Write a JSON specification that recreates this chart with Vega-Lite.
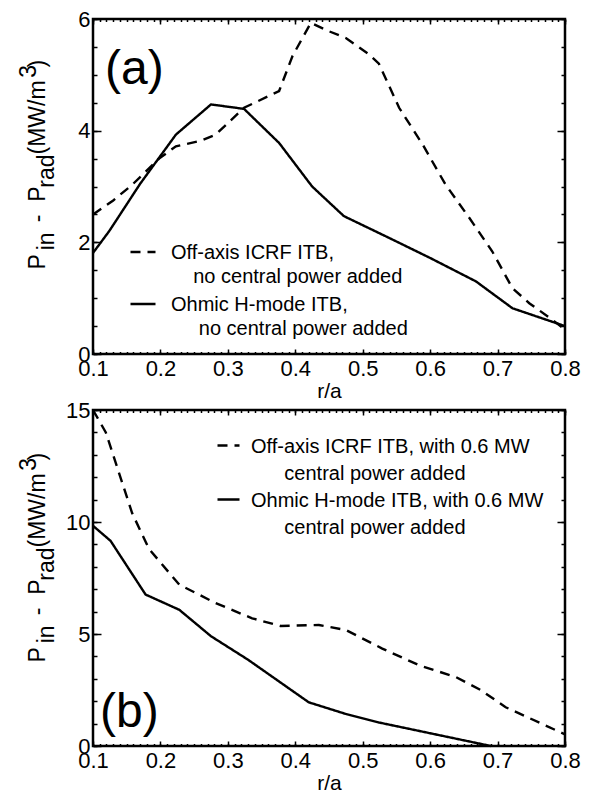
{
  "$schema": "https://vega.github.io/schema/vega-lite/v6.json",
  "padding": {"left": 15, "top": 6, "right": 10, "bottom": 5},
  "bounds": "flush",
  "spacing": 56,
  "config": {
    "font": "Liberation Sans",
    "view": {"stroke": "black", "strokeWidth": 2.5},
    "axis": {"grid": false, "domain": false, "labelFont": "Liberation Sans", "labelFontSize": 22, "labelColor": "black", "titleFont": "Liberation Sans", "titleColor": "black", "titleFontWeight": "normal", "tickColor": "black", "tickWidth": 1.5, "labelOverlap": false, "labelFlush": false},
    "legend": {"labelFont": "Liberation Sans", "labelFontSize": 20, "labelColor": "black", "labelLimit": 600, "padding": 0}
  },
  "resolve": {"scale": {"strokeDash": "independent"}, "legend": {"strokeDash": "independent"}},
  "datasets": {
    "a": [
      {"x": 0.10, "y": 2.50, "s": "a_icrf"}, {"x": 0.13, "y": 2.75, "s": "a_icrf"}, {"x": 0.158, "y": 3.03, "s": "a_icrf"}, {"x": 0.198, "y": 3.50, "s": "a_icrf"}, {"x": 0.223, "y": 3.72, "s": "a_icrf"}, {"x": 0.26, "y": 3.82, "s": "a_icrf"}, {"x": 0.282, "y": 3.93, "s": "a_icrf"}, {"x": 0.324, "y": 4.41, "s": "a_icrf"}, {"x": 0.376, "y": 4.71, "s": "a_icrf"}, {"x": 0.396, "y": 5.34, "s": "a_icrf"}, {"x": 0.423, "y": 5.93, "s": "a_icrf"}, {"x": 0.45, "y": 5.78, "s": "a_icrf"}, {"x": 0.475, "y": 5.66, "s": "a_icrf"}, {"x": 0.51, "y": 5.36, "s": "a_icrf"}, {"x": 0.524, "y": 5.20, "s": "a_icrf"}, {"x": 0.554, "y": 4.41, "s": "a_icrf"}, {"x": 0.589, "y": 3.75, "s": "a_icrf"}, {"x": 0.623, "y": 3.03, "s": "a_icrf"}, {"x": 0.658, "y": 2.44, "s": "a_icrf"}, {"x": 0.692, "y": 1.84, "s": "a_icrf"}, {"x": 0.722, "y": 1.18, "s": "a_icrf"}, {"x": 0.747, "y": 0.91, "s": "a_icrf"}, {"x": 0.777, "y": 0.65, "s": "a_icrf"}, {"x": 0.80, "y": 0.44, "s": "a_icrf"},
      {"x": 0.10, "y": 1.81, "s": "a_ohmic"}, {"x": 0.124, "y": 2.20, "s": "a_ohmic"}, {"x": 0.17, "y": 3.05, "s": "a_ohmic"}, {"x": 0.223, "y": 3.93, "s": "a_ohmic"}, {"x": 0.275, "y": 4.47, "s": "a_ohmic"}, {"x": 0.324, "y": 4.39, "s": "a_ohmic"}, {"x": 0.376, "y": 3.78, "s": "a_ohmic"}, {"x": 0.425, "y": 3.00, "s": "a_ohmic"}, {"x": 0.472, "y": 2.47, "s": "a_ohmic"}, {"x": 0.539, "y": 2.08, "s": "a_ohmic"}, {"x": 0.60, "y": 1.72, "s": "a_ohmic"}, {"x": 0.668, "y": 1.30, "s": "a_ohmic"}, {"x": 0.722, "y": 0.82, "s": "a_ohmic"}, {"x": 0.80, "y": 0.50, "s": "a_ohmic"}
    ],
    "b": [
      {"x": 0.10, "y": 15.0, "s": "b_icrf"}, {"x": 0.119, "y": 14.0, "s": "b_icrf"}, {"x": 0.158, "y": 10.4, "s": "b_icrf"}, {"x": 0.183, "y": 8.8, "s": "b_icrf"}, {"x": 0.228, "y": 7.2, "s": "b_icrf"}, {"x": 0.282, "y": 6.38, "s": "b_icrf"}, {"x": 0.336, "y": 5.7, "s": "b_icrf"}, {"x": 0.378, "y": 5.36, "s": "b_icrf"}, {"x": 0.435, "y": 5.4, "s": "b_icrf"}, {"x": 0.475, "y": 5.18, "s": "b_icrf"}, {"x": 0.529, "y": 4.35, "s": "b_icrf"}, {"x": 0.584, "y": 3.6, "s": "b_icrf"}, {"x": 0.638, "y": 3.08, "s": "b_icrf"}, {"x": 0.675, "y": 2.5, "s": "b_icrf"}, {"x": 0.712, "y": 1.73, "s": "b_icrf"}, {"x": 0.80, "y": 0.52, "s": "b_icrf"},
      {"x": 0.10, "y": 9.83, "s": "b_ohmic"}, {"x": 0.126, "y": 9.16, "s": "b_ohmic"}, {"x": 0.178, "y": 6.76, "s": "b_ohmic"}, {"x": 0.228, "y": 6.08, "s": "b_ohmic"}, {"x": 0.275, "y": 4.9, "s": "b_ohmic"}, {"x": 0.33, "y": 3.85, "s": "b_ohmic"}, {"x": 0.42, "y": 1.95, "s": "b_ohmic"}, {"x": 0.475, "y": 1.43, "s": "b_ohmic"}, {"x": 0.524, "y": 1.05, "s": "b_ohmic"}, {"x": 0.69, "y": 0.0, "s": "b_ohmic"}
    ]
  },
  "vconcat": [
    {
      "width": 472, "height": 335,
      "data": {"name": "a"},
      "title": {"text": "(a)", "anchor": "start", "frame": "group", "fontSize": 48, "fontWeight": "normal", "font": "Liberation Sans", "color": "black", "baseline": "top", "offset": 0, "dx": 12, "dy": 86},
      "layer": [
        {
          "mark": {"type": "line", "color": "black", "strokeWidth": 2.4},
          "encoding": {
            "x": {"field": "x", "type": "quantitative", "scale": {"domain": [0.1, 0.8], "nice": false, "zero": false},
              "axis": {"orient": "bottom", "values": [0.1, 0.2, 0.3, 0.4, 0.5, 0.6, 0.7, 0.8], "format": ".1f", "ticks": false, "labelPadding": 4, "title": "r/a", "titleFontSize": 21, "titleY": 43, "titleBaseline": "alphabetic"}},
            "y": {"field": "y", "type": "quantitative", "scale": {"domain": [0, 6], "nice": false},
              "axis": {"orient": "left", "values": [0, 2, 4, 6], "ticks": false, "labelPadding": 3,
                "title": ["\u200b\u00a0\u00a0\u00a0\u00a0\u00a0\u00a0\u00a0\u00a0\u00a0\u00a0\u00a0\u00a0\u00a0\u00a0\u00a0\u00a0\u00a0\u00a0\u00a0\u00a0\u00a0\u00a0\u00a0\u00a0\u00a0\u00a0\u00a0\u00a0\u00a0\u00a03", "P\u00a0\u00a0\u00a0\u00a0\u00a0-\u00a0\u00a0P\u00a0\u00a0\u00a0\u00a0\u00a0(MW/m\u00a0\u00a0)", "\u200b\u00a0\u00a0\u00a0in\u00a0\u00a0\u00a0\u00a0\u00a0\u00a0\u00a0rad"],
                "titleFontSize": 23, "titleAngle": 270, "titleAlign": "left", "titleBaseline": "alphabetic", "titleLineHeight": 9, "titleX": -58, "titleY": 250}},
            "strokeDash": {"field": "s", "type": "nominal", "scale": {"domain": ["a_icrf", "a_ohmic"], "range": [[10, 7], [1, 0]]},
              "legend": {"orient": "none", "legendX": 36, "legendY": 219, "title": null, "direction": "vertical",
                "labelExpr": "datum.value == 'a_icrf' ? ['Off-axis ICRF ITB,', '\u200b\u00a0\u00a0\u00a0\u00a0no central power added'] : ['Ohmic H-mode ITB,', '\u200b\u00a0\u00a0\u00a0\u00a0\u00a0no central power added']",
                "labelBaseline": "alphabetic", "rowPadding": 3, "labelOffset": 14, "symbolSize": 625, "symbolStrokeWidth": 2.4, "symbolType": "stroke", "symbolStrokeColor": "black",
                "encode": {"labels": {"update": {"dy": {"value": 7}, "lineHeight": {"value": 24}}}}}}
          }
        },
        {
          "mark": {"type": "point", "opacity": 0},
          "encoding": {
            "x": {"field": "x", "type": "quantitative", "scale": {"domain": [0.1, 0.8], "nice": false, "zero": false}, "axis": {"orient": "bottom", "values": [0.1, 0.2, 0.3, 0.4, 0.5, 0.6, 0.7, 0.8], "labels": false, "tickSize": -5, "title": null}},
            "y": {"field": "y", "type": "quantitative", "scale": {"domain": [0, 6], "nice": false}, "axis": {"orient": "left", "values": [0, 2, 4, 6], "labels": false, "tickSize": -8, "title": null}}
          }
        },
        {
          "mark": {"type": "point", "opacity": 0},
          "encoding": {
            "x": {"field": "x", "type": "quantitative", "scale": {"domain": [0.1, 0.8], "nice": false, "zero": false}, "axis": {"orient": "bottom", "values": [0.1,0.11,0.12,0.13,0.14,0.15,0.16,0.17,0.18,0.19,0.2,0.21,0.22,0.23,0.24,0.25,0.26,0.27,0.28,0.29,0.3,0.31,0.32,0.33,0.34,0.35,0.36,0.37,0.38,0.39,0.4,0.41,0.42,0.43,0.44,0.45,0.46,0.47,0.48,0.49,0.5,0.51,0.52,0.53,0.54,0.55,0.56,0.57,0.58,0.59,0.6,0.61,0.62,0.63,0.64,0.65,0.66,0.67,0.68,0.69,0.7,0.71,0.72,0.73,0.74,0.75,0.76,0.77,0.78,0.79,0.8], "labels": false, "tickSize": -2.5, "title": null}},
            "y": {"field": "y", "type": "quantitative", "scale": {"domain": [0, 6], "nice": false}, "axis": {"orient": "left", "values": [0,0.5,1,1.5,2,2.5,3,3.5,4,4.5,5,5.5,6], "labels": false, "tickSize": -4, "title": null}}
          }
        },
        {
          "mark": {"type": "point", "opacity": 0},
          "encoding": {
            "x": {"field": "x", "type": "quantitative", "scale": {"domain": [0.1, 0.8], "nice": false, "zero": false}, "axis": {"orient": "top", "values": [0.1, 0.2, 0.3, 0.4, 0.5, 0.6, 0.7, 0.8], "labels": false, "tickSize": -5, "title": null}},
            "y": {"field": "y", "type": "quantitative", "scale": {"domain": [0, 6], "nice": false}, "axis": {"orient": "right", "values": [0, 2, 4, 6], "labels": false, "tickSize": -8, "title": null}}
          }
        },
        {
          "mark": {"type": "point", "opacity": 0},
          "encoding": {
            "x": {"field": "x", "type": "quantitative", "scale": {"domain": [0.1, 0.8], "nice": false, "zero": false}, "axis": {"orient": "top", "values": [0.1,0.11,0.12,0.13,0.14,0.15,0.16,0.17,0.18,0.19,0.2,0.21,0.22,0.23,0.24,0.25,0.26,0.27,0.28,0.29,0.3,0.31,0.32,0.33,0.34,0.35,0.36,0.37,0.38,0.39,0.4,0.41,0.42,0.43,0.44,0.45,0.46,0.47,0.48,0.49,0.5,0.51,0.52,0.53,0.54,0.55,0.56,0.57,0.58,0.59,0.6,0.61,0.62,0.63,0.64,0.65,0.66,0.67,0.68,0.69,0.7,0.71,0.72,0.73,0.74,0.75,0.76,0.77,0.78,0.79,0.8], "labels": false, "tickSize": -2.5, "title": null}},
            "y": {"field": "y", "type": "quantitative", "scale": {"domain": [0, 6], "nice": false}, "axis": {"orient": "right", "values": [0,0.5,1,1.5,2,2.5,3,3.5,4,4.5,5,5.5,6], "labels": false, "tickSize": -4, "title": null}}
          }
        }
      ],
      "resolve": {"axis": {"x": "independent", "y": "independent"}}
    },
    {
      "width": 472, "height": 336,
      "data": {"name": "b"},
      "title": {"text": "(b)", "anchor": "start", "frame": "group", "fontSize": 48, "fontWeight": "normal", "font": "Liberation Sans", "color": "black", "baseline": "top", "offset": 0, "dx": 7, "dy": 338},
      "layer": [
        {
          "mark": {"type": "line", "color": "black", "strokeWidth": 2.4},
          "encoding": {
            "x": {"field": "x", "type": "quantitative", "scale": {"domain": [0.1, 0.8], "nice": false, "zero": false},
              "axis": {"orient": "bottom", "values": [0.1, 0.2, 0.3, 0.4, 0.5, 0.6, 0.7, 0.8], "format": ".1f", "ticks": false, "labelPadding": 4, "title": "r/a", "titleFontSize": 21, "titleY": 43, "titleBaseline": "alphabetic"}},
            "y": {"field": "y", "type": "quantitative", "scale": {"domain": [0, 15], "nice": false},
              "axis": {"orient": "left", "values": [0, 5, 10, 15], "ticks": false, "labelPadding": 3,
                "title": ["\u200b\u00a0\u00a0\u00a0\u00a0\u00a0\u00a0\u00a0\u00a0\u00a0\u00a0\u00a0\u00a0\u00a0\u00a0\u00a0\u00a0\u00a0\u00a0\u00a0\u00a0\u00a0\u00a0\u00a0\u00a0\u00a0\u00a0\u00a0\u00a0\u00a0\u00a03", "P\u00a0\u00a0\u00a0\u00a0\u00a0-\u00a0\u00a0P\u00a0\u00a0\u00a0\u00a0\u00a0(MW/m\u00a0\u00a0)", "\u200b\u00a0\u00a0\u00a0in\u00a0\u00a0\u00a0\u00a0\u00a0\u00a0\u00a0rad"],
                "titleFontSize": 23, "titleAngle": 270, "titleAlign": "left", "titleBaseline": "alphabetic", "titleLineHeight": 9, "titleX": -58, "titleY": 252}},
            "strokeDash": {"field": "s", "type": "nominal", "scale": {"domain": ["b_icrf", "b_ohmic"], "range": [[10, 7], [1, 0]]},
              "legend": {"orient": "none", "legendX": 123, "legendY": 23, "title": null, "direction": "vertical",
                "labelExpr": "datum.value == 'b_icrf' ? ['Off-axis ICRF ITB, with 0.6 MW', '\u200b\u00a0\u00a0\u00a0\u00a0\u00a0\u00a0central power added'] : ['Ohmic H-mode ITB, with 0.6 MW', '\u200b\u00a0\u00a0\u00a0\u00a0\u00a0\u00a0central power added']",
                "labelBaseline": "alphabetic", "rowPadding": 3, "labelOffset": 10, "symbolSize": 484, "symbolStrokeWidth": 2.4, "symbolType": "stroke", "symbolStrokeColor": "black",
                "encode": {"labels": {"update": {"dy": {"value": 7}, "lineHeight": {"value": 27}}}}}}
          }
        },
        {
          "mark": {"type": "point", "opacity": 0},
          "encoding": {
            "x": {"field": "x", "type": "quantitative", "scale": {"domain": [0.1, 0.8], "nice": false, "zero": false}, "axis": {"orient": "bottom", "values": [0.1, 0.2, 0.3, 0.4, 0.5, 0.6, 0.7, 0.8], "labels": false, "tickSize": -5, "title": null}},
            "y": {"field": "y", "type": "quantitative", "scale": {"domain": [0, 15], "nice": false}, "axis": {"orient": "left", "values": [0, 5, 10, 15], "labels": false, "tickSize": -8, "title": null}}
          }
        },
        {
          "mark": {"type": "point", "opacity": 0},
          "encoding": {
            "x": {"field": "x", "type": "quantitative", "scale": {"domain": [0.1, 0.8], "nice": false, "zero": false}, "axis": {"orient": "bottom", "values": [0.1,0.11,0.12,0.13,0.14,0.15,0.16,0.17,0.18,0.19,0.2,0.21,0.22,0.23,0.24,0.25,0.26,0.27,0.28,0.29,0.3,0.31,0.32,0.33,0.34,0.35,0.36,0.37,0.38,0.39,0.4,0.41,0.42,0.43,0.44,0.45,0.46,0.47,0.48,0.49,0.5,0.51,0.52,0.53,0.54,0.55,0.56,0.57,0.58,0.59,0.6,0.61,0.62,0.63,0.64,0.65,0.66,0.67,0.68,0.69,0.7,0.71,0.72,0.73,0.74,0.75,0.76,0.77,0.78,0.79,0.8], "labels": false, "tickSize": -2.5, "title": null}},
            "y": {"field": "y", "type": "quantitative", "scale": {"domain": [0, 15], "nice": false}, "axis": {"orient": "left", "values": [0,1,2,3,4,5,6,7,8,9,10,11,12,13,14,15], "labels": false, "tickSize": -4, "title": null}}
          }
        },
        {
          "mark": {"type": "point", "opacity": 0},
          "encoding": {
            "x": {"field": "x", "type": "quantitative", "scale": {"domain": [0.1, 0.8], "nice": false, "zero": false}, "axis": {"orient": "top", "values": [0.1, 0.2, 0.3, 0.4, 0.5, 0.6, 0.7, 0.8], "labels": false, "tickSize": -5, "title": null}},
            "y": {"field": "y", "type": "quantitative", "scale": {"domain": [0, 15], "nice": false}, "axis": {"orient": "right", "values": [0, 5, 10, 15], "labels": false, "tickSize": -8, "title": null}}
          }
        },
        {
          "mark": {"type": "point", "opacity": 0},
          "encoding": {
            "x": {"field": "x", "type": "quantitative", "scale": {"domain": [0.1, 0.8], "nice": false, "zero": false}, "axis": {"orient": "top", "values": [0.1,0.11,0.12,0.13,0.14,0.15,0.16,0.17,0.18,0.19,0.2,0.21,0.22,0.23,0.24,0.25,0.26,0.27,0.28,0.29,0.3,0.31,0.32,0.33,0.34,0.35,0.36,0.37,0.38,0.39,0.4,0.41,0.42,0.43,0.44,0.45,0.46,0.47,0.48,0.49,0.5,0.51,0.52,0.53,0.54,0.55,0.56,0.57,0.58,0.59,0.6,0.61,0.62,0.63,0.64,0.65,0.66,0.67,0.68,0.69,0.7,0.71,0.72,0.73,0.74,0.75,0.76,0.77,0.78,0.79,0.8], "labels": false, "tickSize": -2.5, "title": null}},
            "y": {"field": "y", "type": "quantitative", "scale": {"domain": [0, 15], "nice": false}, "axis": {"orient": "right", "values": [0,1,2,3,4,5,6,7,8,9,10,11,12,13,14,15], "labels": false, "tickSize": -4, "title": null}}
          }
        }
      ],
      "resolve": {"axis": {"x": "independent", "y": "independent"}}
    }
  ]
}
